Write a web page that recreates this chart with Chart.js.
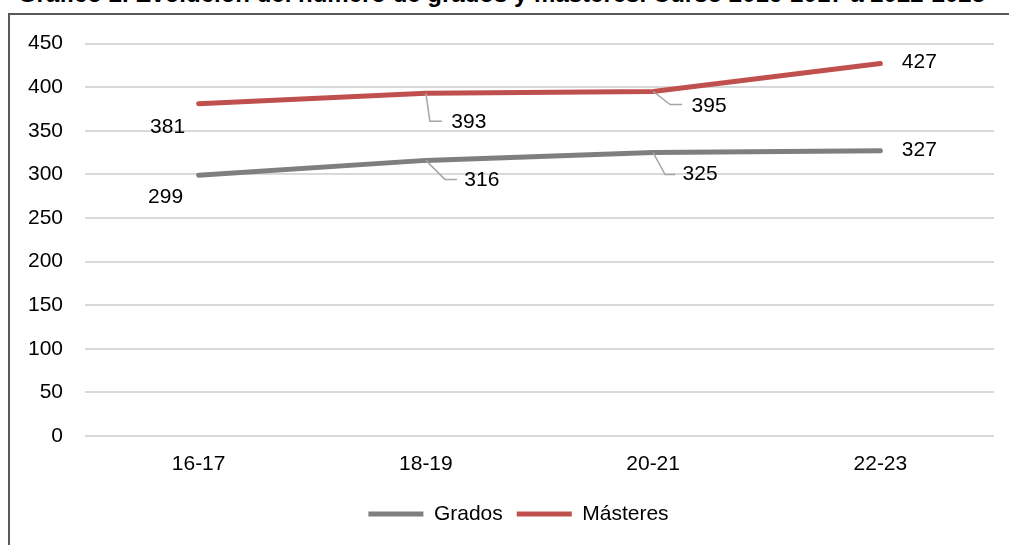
<!DOCTYPE html>
<html>
<head>
<meta charset="utf-8">
<script src="https://cdn.jsdelivr.net/npm/chart.js@4.4.1/dist/chart.umd.min.js"></script>
<style>
  html, body { margin: 0; padding: 0; background: #fff; overflow: hidden; }
  body { width: 1009px; height: 545px; position: relative; }
  #title {
    position: absolute; left: -3px; top: -18px; width: 1009px;
    text-align: center; font: bold 24px "Liberation Sans", Arial, sans-serif;
    line-height: 24px; color: #000; white-space: nowrap;
  }
  #frame {
    position: absolute; left: 8px; top: 13px; width: 1100px; height: 600px;
    border: 2px solid #595959; box-sizing: border-box; pointer-events: none;
  }
  #myChart { position: absolute; left: 0; top: 0; }
</style>
</head>
<body>
<div id="title">Gráfico 2. Evolución del número de grados y másteres. Curso 2016-2017 a 2022-2023</div>
<div id="frame"></div>
<canvas id="myChart" width="1009" height="545"></canvas>
<script>
// cursos (eje x)
const cursos = ['16-17', '18-19', '20-21', '22-23'];
// series
const grados = [299, 316, 325, 327];
const masteres = [381, 393, 395, 427];
// eje y
const yMin = 0;
const yMax = 450;
const yStep = 50;

const FONT = '"Liberation Sans", Arial, sans-serif';

// where each value label sits relative to its point, and optional leader line
// [dx, dy, leader elbow dx, dy, leader end dx, dy]
const labelPlacement = [
  [ // Grados
    [-33, 22],
    [56, 20, 19, 19, 31, 19],
    [47, 22, 12, 22, 22, 22],
    [39, -1]
  ],
  [ // Másteres
    [-31, 24],
    [43, 29, 4, 28, 16, 28],
    [56, 15, 17, 13, 29, 13],
    [39, -1]
  ]
];

const valueLabels = {
  id: 'valueLabels',
  afterDatasetsDraw(chart) {
    const ctx = chart.ctx;
    ctx.save();
    chart.data.datasets.forEach((ds, di) => {
      const meta = chart.getDatasetMeta(di);
      meta.data.forEach((pt, i) => {
        const p = labelPlacement[di][i];
        if (p.length > 2) {
          ctx.strokeStyle = '#a6a6a6';
          ctx.lineWidth = 1.5;
          ctx.beginPath();
          ctx.moveTo(pt.x, pt.y);
          ctx.lineTo(pt.x + p[2], pt.y + p[3]);
          ctx.lineTo(pt.x + p[4], pt.y + p[5]);
          ctx.stroke();
        }
        ctx.fillStyle = '#000';
        ctx.font = '21px ' + FONT;
        ctx.textAlign = 'center';
        ctx.textBaseline = 'middle';
        ctx.fillText(String(ds.data[i]), pt.x + p[0], pt.y + p[1]);
      });
    });
    ctx.restore();
  }
};

// the legend sits centred under the plot area, not under the whole canvas
const legendShift = {
  id: 'legendShift',
  afterLayout(chart) {
    const lg = chart.legend;
    const shift = (chart.chartArea.left + chart.chartArea.right) / 2 - (lg.left + lg.right) / 2 - 21;
    lg.left += shift;
    lg.right += shift;
  }
};

const ctx = document.getElementById('myChart');

const chart = new Chart(ctx, {
  type: 'line',
  data: {
    labels: cursos,
    datasets: [
      {
        label: 'Grados',
        data: grados,
        borderColor: '#7f7f7f',
        backgroundColor: '#7f7f7f',
        borderWidth: 5,
        borderCapStyle: 'round',
        pointRadius: 0,
        tension: 0
      },
      {
        label: 'Másteres',
        data: masteres,
        borderColor: '#c0504d',
        backgroundColor: '#c0504d',
        borderWidth: 5,
        borderCapStyle: 'round',
        pointRadius: 0,
        tension: 0
      }
    ]
  },
  options: {
    responsive: false,
    animation: false,
    devicePixelRatio: 1,
    layout: {
      padding: { left: 9, right: 15, top: 43.5, bottom: 10.5 }
    },
    plugins: {
      tooltip: { enabled: false },
      title: { display: false },
      legend: {
        position: 'bottom',
        labels: {
          boxWidth: 55,
          boxHeight: 5,
          useBorderRadius: true,
          borderRadius: 2.5,
          padding: 14,
          color: '#000',
          font: { family: FONT, size: 21 },
          generateLabels(chart) {
            return chart.data.datasets.map((ds, i) => ({
              text: ds.label,
              fillStyle: ds.borderColor,
              strokeStyle: ds.borderColor,
              lineWidth: 0,
              fontColor: '#000',
              datasetIndex: i
            }));
          }
        }
      }
    },
    scales: {
      x: {
        offset: true,
        grid: { display: false, drawTicks: false },
        border: { display: false },
        ticks: { color: '#000', padding: 16, font: { family: FONT, size: 21 } },
        afterFit(scale) { scale.height = 53.5; }
      },
      y: {
        min: yMin,
        max: yMax,
        grid: { color: '#d9d9d9', lineWidth: 2, drawTicks: false },
        border: { display: false },
        ticks: { stepSize: yStep, color: '#000', padding: 22, font: { family: FONT, size: 21 } },
        afterFit(scale) { scale.width = 76; }
      }
    }
  },
  plugins: [valueLabels, legendShift]
});
</script>
</body>
</html>
